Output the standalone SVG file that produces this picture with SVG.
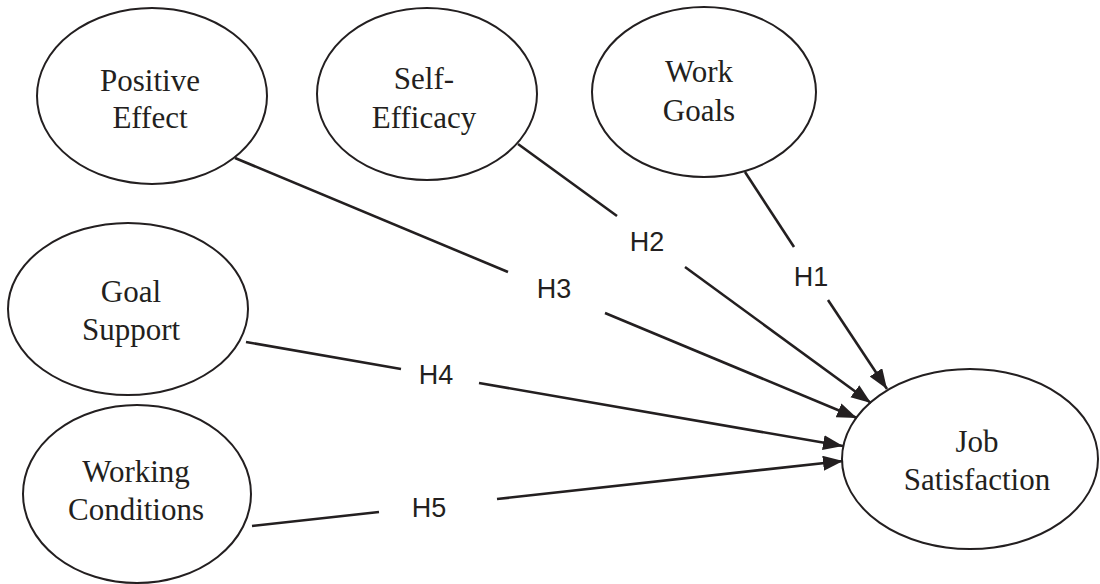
<svg xmlns="http://www.w3.org/2000/svg" width="1100" height="584" viewBox="0 0 1100 584">
<style>
.node ellipse{fill:#ffffff;stroke:#231f20;stroke-width:2}
.node text{font-family:"Liberation Serif","Times New Roman",serif;font-size:31px;fill:#231f20;text-anchor:middle}
.conn line{stroke:#231f20;stroke-width:2.6;fill:none}
.lbl{font-family:"Liberation Sans",Arial,sans-serif;font-size:27px;fill:#231f20;text-anchor:middle}
</style>
<defs>
<marker id="arr" markerUnits="userSpaceOnUse" markerWidth="22" markerHeight="16" refX="20" refY="7.5" orient="auto">
<path d="M0,0 L20,7.5 L0,15 Z" fill="#231f20"/>
</marker>
</defs>
<rect width="1100" height="584" fill="#ffffff"/>
<g id="node-positive-effect" class="node">
<ellipse cx="152" cy="96" rx="115" ry="88"/>
<text x="150" y="91">Positive</text>
<text x="150" y="128">Effect</text>
</g>
<g id="node-self-efficacy" class="node">
<ellipse cx="427" cy="94" rx="110" ry="86"/>
<text x="424" y="89">Self-</text>
<text x="424" y="128">Efficacy</text>
</g>
<g id="node-work-goals" class="node">
<ellipse cx="704" cy="92" rx="112" ry="85"/>
<text x="699" y="82">Work</text>
<text x="699" y="121">Goals</text>
</g>
<g id="node-goal-support" class="node">
<ellipse cx="128" cy="309" rx="120" ry="86"/>
<text x="131" y="302">Goal</text>
<text x="131" y="340">Support</text>
</g>
<g id="node-working-conditions" class="node">
<ellipse cx="137" cy="494" rx="114" ry="89"/>
<text x="136" y="482">Working</text>
<text x="136" y="520">Conditions</text>
</g>
<g id="node-job-satisfaction" class="node">
<ellipse cx="970" cy="459" rx="128" ry="90"/>
<text x="977" y="452">Job</text>
<text x="977" y="490">Satisfaction</text>
</g>
<g id="connectors" class="conn">
<line x1="745" y1="172" x2="794" y2="247"/>
<line x1="828" y1="300" x2="887" y2="389" marker-end="url(#arr)"/>
<line x1="518" y1="144" x2="617" y2="216"/>
<line x1="685" y1="267" x2="871" y2="403" marker-end="url(#arr)"/>
<line x1="235" y1="158" x2="508" y2="272"/>
<line x1="605" y1="313" x2="857" y2="418" marker-end="url(#arr)"/>
<line x1="246" y1="342" x2="401" y2="369"/>
<line x1="479" y1="383" x2="843" y2="446" marker-end="url(#arr)"/>
<line x1="252" y1="526" x2="379" y2="512"/>
<line x1="497" y1="499" x2="843" y2="461" marker-end="url(#arr)"/>
<text class="lbl" x="811" y="286">H1</text>
<text class="lbl" x="647" y="251">H2</text>
<text class="lbl" x="554" y="298">H3</text>
<text class="lbl" x="436" y="384">H4</text>
<text class="lbl" x="429" y="517">H5</text>
</g>
</svg>
